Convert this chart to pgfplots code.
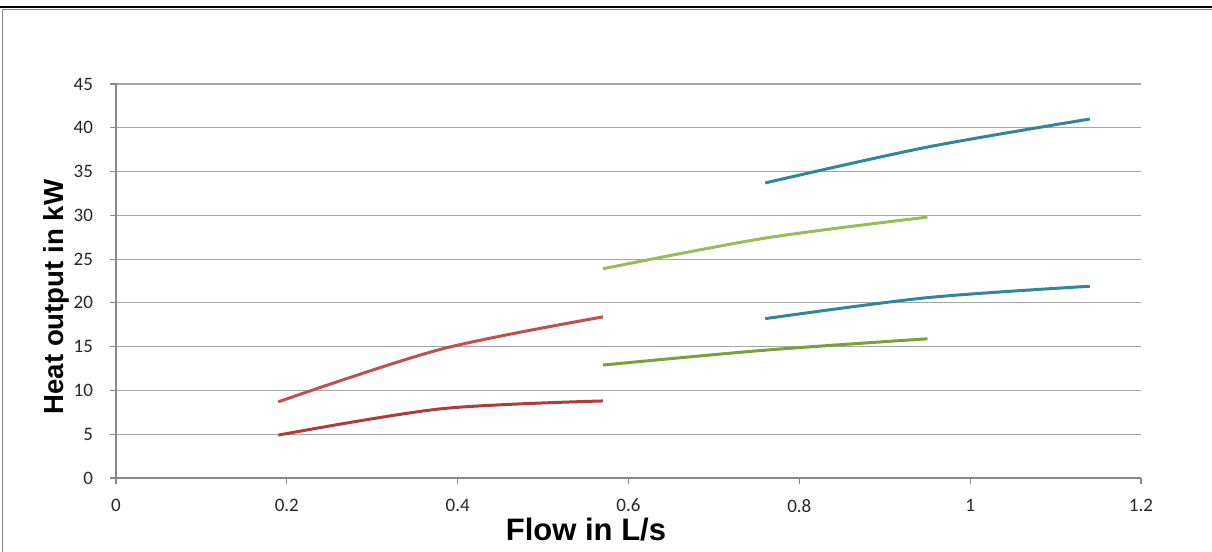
\documentclass[border=0pt]{standalone}
\usepackage{fontspec}
\setmainfont{Carlito}
\newfontfamily\labfont{Liberation Sans}
\usepackage{pgfplots}
\pgfplotsset{compat=1.18}
\definecolor{redA}{HTML}{C0504D}
\definecolor{redB}{HTML}{B03C3A}
\definecolor{greenA}{HTML}{9BBB59}
\definecolor{greenB}{HTML}{7EA03A}
\definecolor{blueA}{HTML}{31859C}
\definecolor{gridc}{HTML}{A6A6A6}
\definecolor{axc}{HTML}{888888}
\begin{document}
\begin{tikzpicture}
\useasboundingbox (0,0) rectangle (606bp,276bp);
\draw[black, line width=1bp] (0,272.5bp) -- (606bp,272.5bp);
\draw[axc, line width=0.6bp] (1.35bp,271.3bp) -- (606bp,271.3bp);
\draw[axc, line width=0.6bp] (1.35bp,271.3bp) -- (1.35bp,0);
\begin{axis}[
  at={(58bp,37bp)}, anchor=south west,
  scale only axis, width=512.5bp, height=197bp,
  xmin=0, xmax=1.2, ymin=0, ymax=45,
  axis x line=bottom, axis y line=left,
  axis line style={axc, line width=0.6bp, -},
  xtick={0,0.2,0.4,0.6,0.8,1,1.2},
  xticklabels={0,0.2,0.4,0.6,0.8,1,1.2},
  ytick={0,5,10,15,20,25,30,35,40,45},
  yticklabels={0,5,10,15,20,25,30,35,40,45},
  tick align=outside, major tick length=3bp,
  tick style={axc, line width=0.6bp},
  ymajorgrids, grid style={gridc, line width=0.6bp},
  tick label style={font=\fontsize{9.5bp}{11bp}\selectfont, text=black!85},
  yticklabel style={xshift=-5bp},
  xticklabel style={yshift=-4bp},
  xlabel={Flow in L/s},
  ylabel={Heat output in kW},
  xlabel style={font=\labfont\bfseries\fontsize{15.5bp}{17bp}\selectfont, at={(axis description cs:0.4585,0)}, anchor=base, yshift=-31bp},
  ylabel style={font=\labfont\bfseries\fontsize{13.8bp}{15bp}\selectfont, at={(axis description cs:-0.0517,0.459)}, anchor=base},
  every axis plot/.append style={line width=1.5bp, smooth, no marks},
  clip=false,
]
\addplot[redA] coordinates {(0.19,8.7) (0.38,14.7) (0.57,18.4)};
\addplot[redB] coordinates {(0.19,4.9) (0.38,7.9) (0.57,8.8)};
\addplot[greenA] coordinates {(0.57,23.9) (0.76,27.4) (0.95,29.8)};
\addplot[greenB] coordinates {(0.57,12.9) (0.76,14.6) (0.95,15.9)};
\addplot[blueA] coordinates {(0.76,33.7) (0.95,37.8) (1.14,41.0)};
\addplot[blueA] coordinates {(0.76,18.2) (0.95,20.6) (1.14,21.9)};
\end{axis}
\end{tikzpicture}
\end{document}
